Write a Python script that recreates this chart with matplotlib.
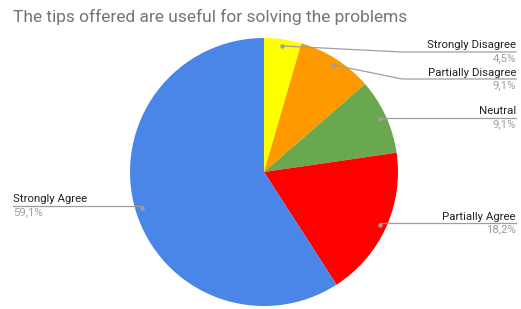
import numpy as np
import matplotlib
matplotlib.use("Agg")
import matplotlib.pyplot as plt

plt.rcParams['font.family'] = ['Roboto', 'DejaVu Sans']

# data
labels = ["Strongly Disagree", "Partially Disagree", "Neutral", "Partially Agree", "Strongly Agree"]
values = [4.5, 9.1, 9.1, 18.2, 59.1]
colors = ["#ffff00", "#ff9900", "#6aa84f", "#ff0000", "#4a86e8"]
title = "The tips offered are useful for solving the problems"

# layout (pixel coords, y measured from top)
W, H = 521, 309
cx, cy, r = 264, 172, 134
# (line y, elbow x or None, side)
label_lines = [(52, 402, 'right'), (79, 402, 'right'), (118, None, 'right'),
               (223, None, 'right'), (206, None, 'left')]

fig = plt.figure(figsize=(W / 100, H / 100), dpi=100)
ax = fig.add_axes([0, 0, 1, 1])
ax.set_xlim(0, W)
ax.set_ylim(0, H)
ax.axis('off')

wedges, _ = ax.pie(values, colors=colors, startangle=90, counterclock=False,
                   center=(cx, H - cy), radius=r,
                   wedgeprops=dict(linewidth=0))
ax.set_xlim(0, W)
ax.set_ylim(0, H)
ax.set_aspect('equal')

line_col = "#9e9e9e"
for w, lab, val, (ly, ex, side) in zip(wedges, labels, values, label_lines):
    ang = np.deg2rad((w.theta1 + w.theta2) / 2)
    dx = cx + 0.95 * r * np.cos(ang)
    dy = (H - cy) + 0.95 * r * np.sin(ang)
    Ly = H - ly
    ax.plot(dx, dy, 'o', ms=2.2, color=line_col, zorder=5)
    pct = f"{val:.1f}%".replace('.', ',')
    if side == 'right':
        xs = [dx, ex, 516] if ex else [dx, 516]
        ys = [dy, Ly, Ly] if ex else [Ly, Ly]
        ax.plot(xs, ys, color=line_col, lw=0.9, zorder=4)
        ax.text(516, Ly + 1.5, lab, ha='right', va='bottom', fontsize=8.2, color='#222222')
        ax.text(516, Ly - 1.5, pct, ha='right', va='top', fontsize=8.2, color='#9e9e9e')
    else:
        ax.plot([13, dx], [Ly, Ly], color=line_col, lw=0.9, zorder=4)
        ax.text(13, Ly + 1.5, lab, ha='left', va='bottom', fontsize=8.2, color='#222222')
        ax.text(13, Ly - 1.5, pct, ha='left', va='top', fontsize=8.2, color='#9e9e9e')

ax.text(13, H - 17, title, ha='left', va='center', fontsize=12.5, color='#757575')

fig.savefig("out.png", dpi=100)
